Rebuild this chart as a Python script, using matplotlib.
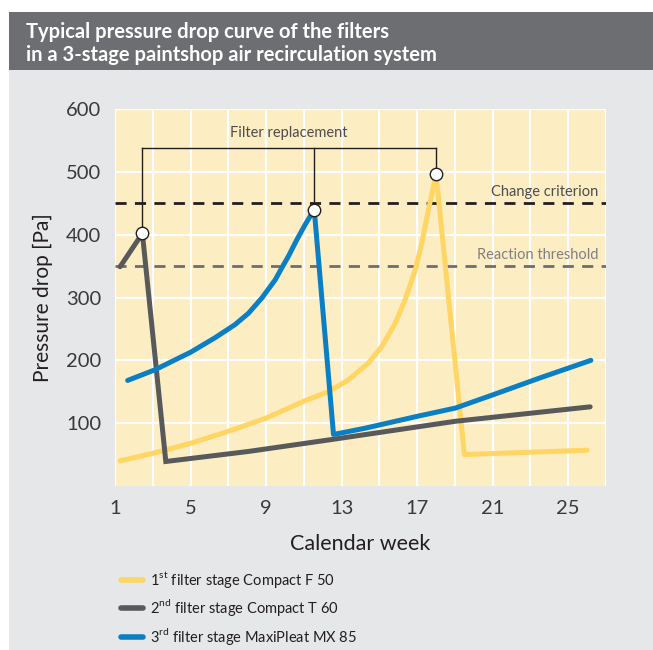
import matplotlib
matplotlib.use("Agg")
import matplotlib.pyplot as plt
from matplotlib.patches import Rectangle

# ---- data ----
stage1_weeks = [1.27, 3.0, 5.01, 7.0, 9.0, 11.0, 12.3, 13.37, 14.43, 15.13, 15.84, 16.37, 16.9, 17.25, 17.6, 18.0, 19.5, 26.0]
stage1_vals = [40, 52, 68, 87, 108, 135, 150, 169, 196, 222, 259, 297, 344, 387, 440, 496, 50, 57]

stage2_weeks = [1.27, 2.45, 3.69, 8.07, 12.48, 19.02, 26.16]
stage2_vals = [349, 402, 39, 55, 74, 103, 126]

stage3_weeks = [1.67, 3.12, 5.01, 6.3, 7.36, 8.07, 8.77, 9.48, 9.83, 10.19, 10.63, 11.07, 11.55,
                12.57, 14.25, 17.02, 19.02, 21.0, 23.5, 26.2]
stage3_vals = [168, 185, 213, 236, 257, 275, 299, 328, 347, 366, 392, 416, 440,
               82, 92, 111, 124, 145, 172, 200]

replacement_points = [(2.45, 402), (11.55, 440), (18.0, 496)]
bracket_level = 538
change_criterion = 450
reaction_threshold = 350

x_ticks = [1, 5, 9, 13, 17, 21, 25]
y_ticks = [100, 200, 300, 400, 500, 600]

labels = [r"1$^{\mathregular{st}}$ filter stage Compact F 50",
          r"2$^{\mathregular{nd}}$ filter stage Compact T 60",
          r"3$^{\mathregular{rd}}$ filter stage MaxiPleat MX 85"]

C_YEL = "#ffd564"
C_GRY = "#58595b"
C_BLU = "#0b7fc4"
C_HEAD = "#6d6e71"
C_PANEL = "#e6e7e8"
C_PLOT = "#fdedc3"
C_TXT = "#231f20"

plt.rcParams['font.family'] = ['Lato', 'DejaVu Sans']
plt.rcParams['mathtext.fontset'] = 'custom'
plt.rcParams['mathtext.rm'] = 'Lato'

W, H = 653, 650
fig = plt.figure(figsize=(W / 100, H / 100), dpi=100)
fig.patch.set_facecolor("white")

# panel background and header
fig.patches.append(Rectangle((9 / W, 0), 1 - 9 / W, (H - 70) / H, transform=fig.transFigure,
                             facecolor=C_PANEL, edgecolor="none", zorder=-2))
fig.patches.append(Rectangle((9 / W, (H - 70) / H), 1 - 9 / W, 58 / H, transform=fig.transFigure,
                             facecolor=C_HEAD, edgecolor="none", zorder=-2))
fig.text(26 / W, (H - 32) / H, "Typical pressure drop curve of the filters", color="white",
         fontsize=14.5, fontweight="bold", va="center", ha="left")
fig.text(26 / W, (H - 55) / H, "in a 3-stage paintshop air recirculation system", color="white",
         fontsize=14.5, fontweight="bold", va="center", ha="left")

ax = fig.add_axes([115 / W, (H - 486) / H, (606 - 115) / W, (486 - 109) / H])
ax.set_zorder(1)
ax.set_facecolor(C_PLOT)
ax.set_xlim(1, 27)
ax.set_ylim(0, 600)
ax.set_xticks(x_ticks)
ax.set_xticks([3, 7, 11, 15, 19, 23, 27], minor=True)
ax.set_yticks(y_ticks)
ax.grid(True, which="both", color="white", linewidth=1.6)
ax.set_axisbelow(True)
ax.tick_params(which="both", length=0)
ax.tick_params(axis="x", labelsize=14.5, pad=10, labelcolor="#3a3a3c")
ax.tick_params(axis="y", labelsize=14.5, pad=10, labelcolor="#3a3a3c")
for s in ax.spines.values():
    s.set_visible(False)

ax.set_xlabel("Calendar week", fontsize=15.5, color=C_TXT, labelpad=12)
ax.set_ylabel("Pressure drop [Pa]", fontsize=15, color=C_TXT, labelpad=9)

# threshold lines
ax.axhline(change_criterion, color=C_TXT, lw=2, dashes=(4, 3), zorder=2)
ax.axhline(reaction_threshold, color="#6d6e71", lw=2, dashes=(4, 3), zorder=2)
ax.text(26.6, change_criterion + 7, "Change criterion", ha="right", va="bottom",
        fontsize=10.5, color="#4d4d4f")
ax.text(26.6, reaction_threshold + 7, "Reaction threshold", ha="right", va="bottom",
        fontsize=10.5, color="#808080")

# curves
l1, = ax.plot(stage1_weeks, stage1_vals, color=C_YEL, lw=3.6, solid_joinstyle="round", zorder=3)
l2, = ax.plot(stage2_weeks, stage2_vals, color=C_GRY, lw=3.6, solid_joinstyle="miter", zorder=3)
l3, = ax.plot(stage3_weeks, stage3_vals, color=C_BLU, lw=3.6, solid_joinstyle="round", zorder=3)
for ln in (l1, l2, l3):
    ln.set_solid_capstyle("round")

# filter replacement bracket
px = [p[0] for p in replacement_points]
py = [p[1] for p in replacement_points]
ax.plot([px[0], px[-1]], [bracket_level, bracket_level], color=C_TXT, lw=1, zorder=4)
for x, y in replacement_points:
    ax.plot([x, x], [y, bracket_level], color=C_TXT, lw=1, zorder=4)
ax.scatter(px, py, s=80, facecolor="white", edgecolor=C_TXT, linewidth=1, zorder=5)
ax.text(10.2, bracket_level + 12, "Filter replacement", ha="center", va="bottom",
        fontsize=10.5, color="#4d4d4f")

# legend
leg = fig.legend([l1, l2, l3], labels, loc="upper left",
                 bbox_to_anchor=(108 / W, (H - 556) / H), frameon=False,
                 fontsize=10.5, handlelength=1.5, handletextpad=0.5, labelspacing=0.5,
                 labelcolor=C_TXT)
for h in leg.get_lines():
    h.set_linewidth(4)
    h.set_solid_capstyle("round")

fig.savefig("out.png", dpi=100, facecolor=fig.get_facecolor())
